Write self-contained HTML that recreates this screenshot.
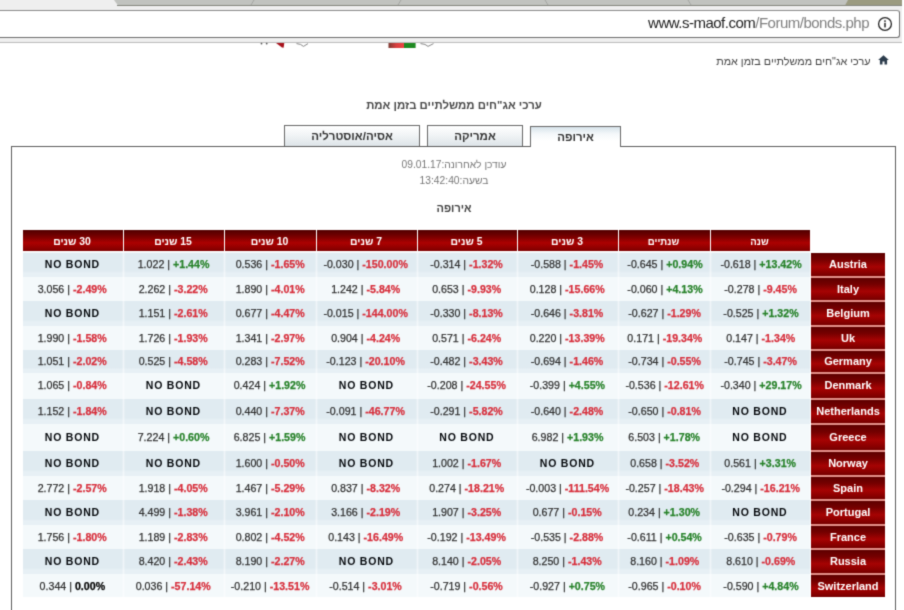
<!DOCTYPE html>
<html><head><meta charset="utf-8"><title>bonds</title>
<style>
html,body{margin:0;padding:0;}
body{width:904px;height:610px;position:relative;overflow:hidden;background:#fff;font-family:"Liberation Sans",sans-serif;}
.a{position:absolute;}
.t{position:absolute;white-space:nowrap;text-align:center;}
.h{position:absolute;top:230px;height:21px;line-height:22px;color:#fff;font-weight:bold;font-size:10.4px;text-align:center;direction:rtl;
 background:linear-gradient(to bottom,#520000 0%,#6c0000 22%,#800000 36%,#ac0101 61%,#960000 80%,#7e0000 100%);}
.c{position:absolute;text-align:center;font-size:10.65px;color:#303030;white-space:nowrap;}
.c .v{display:inline-block;font-size:11px;-webkit-text-stroke:0.25px;transform:translateX(-0.5px) scaleX(0.968);transform-origin:50% 50%;}
.c .v.m1{transform:translateX(-1px) scaleX(0.968);}
.c .v.m0{transform:translateX(0.1px) scaleX(0.968);}
.c b.g{color:#27822a;}
.c b.r{color:#d72f3c;}
.c b.k{color:#000;}
.nb{font-weight:bold;color:#05080c;letter-spacing:0.8px;font-size:10.5px;display:inline-block;transform:translate(-0.6px,-0.5px);}
.gp{position:absolute;width:3px;background:linear-gradient(to right,rgba(255,255,255,0.2) 0,rgba(255,255,255,0.2) 1px,rgba(255,255,255,0.5) 1px,rgba(255,255,255,0.5) 2px,rgba(255,255,255,0.2) 2px,rgba(255,255,255,0.2) 3px);}
.e{background:linear-gradient(to bottom,#e0ebf1 0%,#e0ebf1 76%,#e7f0f5 84%,#e7f0f5 100%);}
.o{background:#f4f9fb;}
.n{position:absolute;left:811px;width:74px;color:#fff;font-weight:bold;font-size:11px;text-align:center;white-space:nowrap;
 background:linear-gradient(to bottom,#5e0000 0%,#740000 28%,#a60303 60%,#900000 80%,#760000 100%);}
#pg{position:absolute;left:0;top:0;width:904px;height:610px;overflow:hidden;background:#fff;filter:url(#bl);}
</style></head><body><svg width="0" height="0" style="position:absolute"><filter id="bl" x="0" y="0" width="100%" height="100%" color-interpolation-filters="sRGB"><feConvolveMatrix order="3" kernelMatrix="0.0225 0.1051 0.0225 0.1051 0.4896 0.1051 0.0225 0.1051 0.0225" edgeMode="duplicate" preserveAlpha="true"/></filter></svg><div id="pg">

<div class="a" style="left:0;top:0;width:902px;height:43px;background:#efefef;"></div>
<svg class="a" style="left:0;top:0" width="904" height="11" viewBox="0 0 904 11"><polygon points="114,0 902,0 902,5.5 118,5.5" fill="#c1c3bf"/><polygon points="848,0 902,0 902,5.5 845,5.5" fill="#9b9b80"/><line x1="117" y1="5.5" x2="902" y2="5.5" stroke="#85877f" stroke-width="1"/><line x1="254" y1="0" x2="251" y2="5" stroke="#a4a6a2" stroke-width="1"/><line x1="401" y1="0" x2="398" y2="5" stroke="#a4a6a2" stroke-width="1"/><line x1="545" y1="0" x2="548" y2="5" stroke="#a4a6a2" stroke-width="1"/><line x1="688" y1="0" x2="691" y2="5" stroke="#a4a6a2" stroke-width="1"/></svg>
<div class="a" style="left:-3px;top:10px;width:901px;height:26px;background:#fff;border:1px solid #6e6e6e;border-top-color:#8c8c8c;border-radius:3px;"></div>
<div class="a" style="left:0;top:42px;width:902px;height:1px;background:#bdbdbd;"></div>
<div class="t" id="url" style="left:600px;width:269px;text-align:right;top:12px;height:22px;line-height:22px;font-size:15px;letter-spacing:-0.5px;color:#222;">www.s-maof.com<span style="color:#808080">/Forum/bonds.php</span></div>
<svg class="a" style="left:877px;top:16px" width="16" height="16" viewBox="0 0 16 16"><circle cx="8" cy="8" r="6.4" fill="none" stroke="#222" stroke-width="1.3"/><rect x="7.25" y="6.8" width="1.5" height="4.6" fill="#222"/><rect x="7.25" y="4.3" width="1.5" height="1.6" fill="#222"/></svg>
<svg class="a" style="left:250px;top:42px" width="200" height="8" viewBox="250 42 200 8"><circle cx="261.5" cy="43.6" r="0.9" fill="#555"/><circle cx="266.7" cy="43.6" r="0.9" fill="#555"/><polygon points="276,43 284.3,43 283.6,47.8 282,47.6" fill="#a8121c"/><path d="M296.5 43.6 L300.5 44.4 L303.5 46.4 L308 43.6" fill="none" stroke="#777" stroke-width="0.9"/><defs><linearGradient id="rg" x1="0" x2="1" y1="0" y2="0"><stop offset="0" stop-color="#7c3a32"/><stop offset="0.5" stop-color="#d84040"/><stop offset="1" stop-color="#ee4444"/></linearGradient></defs><rect x="388.5" y="43" width="15.5" height="5" fill="url(#rg)"/><rect x="404" y="43" width="11.6" height="5" fill="#1f8a22"/><path d="M420.5 43.6 L425 44.4 L428 46.4 L433.5 43.6" fill="none" stroke="#777" stroke-width="0.9"/></svg>
<svg class="a" style="left:878px;top:55px" width="11" height="10" viewBox="0 0 11 10"><path d="M5.5 0.3 L0.2 5 L1.9 5 L1.9 9.6 L4.5 9.6 L4.5 6.4 L6.5 6.4 L6.5 9.6 L9.1 9.6 L9.1 5 L10.8 5 Z" fill="#2c3c4c"/></svg>
<div class="t" id="bc" style="left:600px;width:270.5px;text-align:right;top:53px;height:16px;line-height:16px;font-size:10.8px;color:#444;direction:rtl;"><span>ערכי אג"חים ממשלתיים בזמן אמת</span></div>
<div class="t" id="title" style="left:254px;width:400px;top:97px;height:16px;line-height:16px;font-size:11.4px;font-weight:bold;color:#4a4a4a;direction:rtl;"><span>ערכי אג"חים ממשלתיים בזמן אמת</span></div>
<div class="a" style="left:11px;top:146px;width:883px;height:480px;border:1px solid #5c5c5c;border-bottom:none;"></div>
<div class="t tab" style="left:284px;top:125px;width:134px;height:20px;line-height:20px;border:1px solid #686868;border-bottom:none;background:linear-gradient(to bottom,#ffffff 0%,#f1f4f6 45%,#dde4e8 100%);font-size:11.5px;font-weight:bold;color:#333;direction:rtl;"><span>אסיה/אוסטרליה</span></div>
<div class="t tab" style="left:427px;top:125px;width:94px;height:20px;line-height:20px;border:1px solid #686868;border-bottom:none;background:linear-gradient(to bottom,#ffffff 0%,#f1f4f6 45%,#dde4e8 100%);font-size:11.5px;font-weight:bold;color:#333;direction:rtl;"><span>אמריקה</span></div>
<div class="t tab" style="left:530px;top:126px;width:89px;height:20px;line-height:21px;border:1px solid #686868;border-bottom:none;background:linear-gradient(to bottom,#d7e3ea 0%,#f4f8fa 35%,#ffffff 70%);font-size:11.5px;font-weight:bold;color:#333;direction:rtl;"><span>אירופה</span></div>
<div class="t" id="i1" style="left:254px;width:400px;top:157px;height:16px;line-height:16px;font-size:10.25px;color:#777;direction:rtl;"><span>עודכן לאחרונה:09.01.17</span></div>
<div class="t" id="i2" style="left:254px;width:400px;top:173px;height:16px;line-height:16px;font-size:10.3px;color:#777;direction:rtl;"><span>בשעה:13:42:40</span></div>
<div class="t" id="i3" style="left:254px;width:400px;top:200px;height:16px;line-height:16px;font-size:11px;font-weight:bold;color:#444;direction:rtl;"><span>אירופה</span></div>
<div class="h" style="left:23px;width:100px;"><span style="position:relative;top:1px;left:-1px;">30 שנים</span></div>
<div class="h" style="left:124px;width:100px;"><span style="position:relative;top:1px;left:-1px;">15 שנים</span></div>
<div class="h" style="left:225px;width:91px;"><span style="position:relative;top:1px;left:-1px;">10 שנים</span></div>
<div class="h" style="left:317px;width:100px;"><span style="position:relative;top:1px;left:-1px;">7 שנים</span></div>
<div class="h" style="left:418px;width:99px;"><span style="position:relative;top:1px;left:-1px;">5 שנים</span></div>
<div class="h" style="left:518px;width:100px;"><span style="position:relative;top:1px;left:-1px;">3 שנים</span></div>
<div class="h" style="left:619px;width:91px;font-size:9.6px;"><span style="position:relative;top:1px;left:-1px;">שנתיים</span></div>
<div class="h" style="left:711px;width:99px;font-size:9.6px;"><span style="position:relative;top:1px;left:-1px;">שנה</span></div>
<div class="a e" style="left:23px;top:252px;width:787px;height:25px;"></div>
<div class="c" style="left:23px;width:100px;top:252px;height:25px;line-height:25px;"><span class="nb">NO BOND</span></div>
<div class="gp" style="left:122px;top:252px;height:25px;"></div>
<div class="c" style="left:124px;width:100px;top:252px;height:25px;line-height:25px;"><span class="v">1.022 | <b class="g">+1.44%</b></span></div>
<div class="gp" style="left:223px;top:252px;height:25px;"></div>
<div class="c" style="left:225px;width:91px;top:252px;height:25px;line-height:25px;"><span class="v">0.536 | <b class="r">-1.65%</b></span></div>
<div class="gp" style="left:315px;top:252px;height:25px;"></div>
<div class="c" style="left:317px;width:100px;top:252px;height:25px;line-height:25px;"><span class="v m1">-0.030 | <b class="r">-150.00%</b></span></div>
<div class="gp" style="left:416px;top:252px;height:25px;"></div>
<div class="c" style="left:418px;width:99px;top:252px;height:25px;line-height:25px;"><span class="v m1">-0.314 | <b class="r">-1.32%</b></span></div>
<div class="gp" style="left:516px;top:252px;height:25px;"></div>
<div class="c" style="left:518px;width:100px;top:252px;height:25px;line-height:25px;"><span class="v">-0.588 | <b class="r">-1.45%</b></span></div>
<div class="gp" style="left:617px;top:252px;height:25px;"></div>
<div class="c" style="left:619px;width:91px;top:252px;height:25px;line-height:25px;"><span class="v m0">-0.645 | <b class="g">+0.94%</b></span></div>
<div class="gp" style="left:709px;top:252px;height:25px;"></div>
<div class="c" style="left:711px;width:99px;top:252px;height:25px;line-height:25px;"><span class="v m0">-0.618 | <b class="g">+13.42%</b></span></div>
<div class="n" style="top:253px;height:23px;line-height:23px;"><span>Austria</span></div>
<div class="a" style="left:811px;width:74px;top:276px;height:2px;background:#e39088;"></div>
<div class="a o" style="left:23px;top:277px;width:787px;height:24px;"></div>
<div class="c" style="left:23px;width:100px;top:277px;height:24px;line-height:24px;"><span class="v">3.056 | <b class="r">-2.49%</b></span></div>
<div class="gp" style="left:122px;top:277px;height:24px;"></div>
<div class="c" style="left:124px;width:100px;top:277px;height:24px;line-height:24px;"><span class="v">2.262 | <b class="r">-3.22%</b></span></div>
<div class="gp" style="left:223px;top:277px;height:24px;"></div>
<div class="c" style="left:225px;width:91px;top:277px;height:24px;line-height:24px;"><span class="v">1.890 | <b class="r">-4.01%</b></span></div>
<div class="gp" style="left:315px;top:277px;height:24px;"></div>
<div class="c" style="left:317px;width:100px;top:277px;height:24px;line-height:24px;"><span class="v m1">1.242 | <b class="r">-5.84%</b></span></div>
<div class="gp" style="left:416px;top:277px;height:24px;"></div>
<div class="c" style="left:418px;width:99px;top:277px;height:24px;line-height:24px;"><span class="v m1">0.653 | <b class="r">-9.93%</b></span></div>
<div class="gp" style="left:516px;top:277px;height:24px;"></div>
<div class="c" style="left:518px;width:100px;top:277px;height:24px;line-height:24px;"><span class="v">0.128 | <b class="r">-15.66%</b></span></div>
<div class="gp" style="left:617px;top:277px;height:24px;"></div>
<div class="c" style="left:619px;width:91px;top:277px;height:24px;line-height:24px;"><span class="v m0">-0.060 | <b class="g">+4.13%</b></span></div>
<div class="gp" style="left:709px;top:277px;height:24px;"></div>
<div class="c" style="left:711px;width:99px;top:277px;height:24px;line-height:24px;"><span class="v m0">-0.278 | <b class="r">-9.45%</b></span></div>
<div class="n" style="top:278px;height:22px;line-height:22px;"><span>Italy</span></div>
<div class="a" style="left:811px;width:74px;top:300px;height:2px;background:#e39088;"></div>
<div class="a e" style="left:23px;top:301px;width:787px;height:25px;"></div>
<div class="c" style="left:23px;width:100px;top:301px;height:25px;line-height:25px;"><span class="nb">NO BOND</span></div>
<div class="gp" style="left:122px;top:301px;height:25px;"></div>
<div class="c" style="left:124px;width:100px;top:301px;height:25px;line-height:25px;"><span class="v">1.151 | <b class="r">-2.61%</b></span></div>
<div class="gp" style="left:223px;top:301px;height:25px;"></div>
<div class="c" style="left:225px;width:91px;top:301px;height:25px;line-height:25px;"><span class="v">0.677 | <b class="r">-4.47%</b></span></div>
<div class="gp" style="left:315px;top:301px;height:25px;"></div>
<div class="c" style="left:317px;width:100px;top:301px;height:25px;line-height:25px;"><span class="v m1">-0.015 | <b class="r">-144.00%</b></span></div>
<div class="gp" style="left:416px;top:301px;height:25px;"></div>
<div class="c" style="left:418px;width:99px;top:301px;height:25px;line-height:25px;"><span class="v m1">-0.330 | <b class="r">-8.13%</b></span></div>
<div class="gp" style="left:516px;top:301px;height:25px;"></div>
<div class="c" style="left:518px;width:100px;top:301px;height:25px;line-height:25px;"><span class="v">-0.646 | <b class="r">-3.81%</b></span></div>
<div class="gp" style="left:617px;top:301px;height:25px;"></div>
<div class="c" style="left:619px;width:91px;top:301px;height:25px;line-height:25px;"><span class="v m0">-0.627 | <b class="r">-1.29%</b></span></div>
<div class="gp" style="left:709px;top:301px;height:25px;"></div>
<div class="c" style="left:711px;width:99px;top:301px;height:25px;line-height:25px;"><span class="v m0">-0.525 | <b class="g">+1.32%</b></span></div>
<div class="n" style="top:302px;height:23px;line-height:23px;"><span>Belgium</span></div>
<div class="a" style="left:811px;width:74px;top:325px;height:2px;background:#e39088;"></div>
<div class="a o" style="left:23px;top:326px;width:787px;height:24px;"></div>
<div class="c" style="left:23px;width:100px;top:326px;height:24px;line-height:24px;"><span class="v">1.990 | <b class="r">-1.58%</b></span></div>
<div class="gp" style="left:122px;top:326px;height:24px;"></div>
<div class="c" style="left:124px;width:100px;top:326px;height:24px;line-height:24px;"><span class="v">1.726 | <b class="r">-1.93%</b></span></div>
<div class="gp" style="left:223px;top:326px;height:24px;"></div>
<div class="c" style="left:225px;width:91px;top:326px;height:24px;line-height:24px;"><span class="v">1.341 | <b class="r">-2.97%</b></span></div>
<div class="gp" style="left:315px;top:326px;height:24px;"></div>
<div class="c" style="left:317px;width:100px;top:326px;height:24px;line-height:24px;"><span class="v m1">0.904 | <b class="r">-4.24%</b></span></div>
<div class="gp" style="left:416px;top:326px;height:24px;"></div>
<div class="c" style="left:418px;width:99px;top:326px;height:24px;line-height:24px;"><span class="v m1">0.571 | <b class="r">-6.24%</b></span></div>
<div class="gp" style="left:516px;top:326px;height:24px;"></div>
<div class="c" style="left:518px;width:100px;top:326px;height:24px;line-height:24px;"><span class="v">0.220 | <b class="r">-13.39%</b></span></div>
<div class="gp" style="left:617px;top:326px;height:24px;"></div>
<div class="c" style="left:619px;width:91px;top:326px;height:24px;line-height:24px;"><span class="v m0">0.171 | <b class="r">-19.34%</b></span></div>
<div class="gp" style="left:709px;top:326px;height:24px;"></div>
<div class="c" style="left:711px;width:99px;top:326px;height:24px;line-height:24px;"><span class="v m0">0.147 | <b class="r">-1.34%</b></span></div>
<div class="n" style="top:327px;height:22px;line-height:22px;"><span>Uk</span></div>
<div class="a" style="left:811px;width:74px;top:349px;height:2px;background:#e39088;"></div>
<div class="a e" style="left:23px;top:350px;width:787px;height:23px;"></div>
<div class="c" style="left:23px;width:100px;top:350px;height:23px;line-height:23px;"><span class="v">1.051 | <b class="r">-2.02%</b></span></div>
<div class="gp" style="left:122px;top:350px;height:23px;"></div>
<div class="c" style="left:124px;width:100px;top:350px;height:23px;line-height:23px;"><span class="v">0.525 | <b class="r">-4.58%</b></span></div>
<div class="gp" style="left:223px;top:350px;height:23px;"></div>
<div class="c" style="left:225px;width:91px;top:350px;height:23px;line-height:23px;"><span class="v">0.283 | <b class="r">-7.52%</b></span></div>
<div class="gp" style="left:315px;top:350px;height:23px;"></div>
<div class="c" style="left:317px;width:100px;top:350px;height:23px;line-height:23px;"><span class="v m1">-0.123 | <b class="r">-20.10%</b></span></div>
<div class="gp" style="left:416px;top:350px;height:23px;"></div>
<div class="c" style="left:418px;width:99px;top:350px;height:23px;line-height:23px;"><span class="v m1">-0.482 | <b class="r">-3.43%</b></span></div>
<div class="gp" style="left:516px;top:350px;height:23px;"></div>
<div class="c" style="left:518px;width:100px;top:350px;height:23px;line-height:23px;"><span class="v">-0.694 | <b class="r">-1.46%</b></span></div>
<div class="gp" style="left:617px;top:350px;height:23px;"></div>
<div class="c" style="left:619px;width:91px;top:350px;height:23px;line-height:23px;"><span class="v m0">-0.734 | <b class="r">-0.55%</b></span></div>
<div class="gp" style="left:709px;top:350px;height:23px;"></div>
<div class="c" style="left:711px;width:99px;top:350px;height:23px;line-height:23px;"><span class="v m0">-0.745 | <b class="r">-3.47%</b></span></div>
<div class="n" style="top:351px;height:21px;line-height:21px;"><span>Germany</span></div>
<div class="a" style="left:811px;width:74px;top:372px;height:2px;background:#e39088;"></div>
<div class="a o" style="left:23px;top:373px;width:787px;height:26px;"></div>
<div class="c" style="left:23px;width:100px;top:372px;height:26px;line-height:26px;"><span class="v">1.065 | <b class="r">-0.84%</b></span></div>
<div class="gp" style="left:122px;top:373px;height:26px;"></div>
<div class="c" style="left:124px;width:100px;top:372px;height:26px;line-height:26px;"><span class="nb">NO BOND</span></div>
<div class="gp" style="left:223px;top:373px;height:26px;"></div>
<div class="c" style="left:225px;width:91px;top:372px;height:26px;line-height:26px;"><span class="v">0.424 | <b class="g">+1.92%</b></span></div>
<div class="gp" style="left:315px;top:373px;height:26px;"></div>
<div class="c" style="left:317px;width:100px;top:372px;height:26px;line-height:26px;"><span class="nb">NO BOND</span></div>
<div class="gp" style="left:416px;top:373px;height:26px;"></div>
<div class="c" style="left:418px;width:99px;top:372px;height:26px;line-height:26px;"><span class="v m1">-0.208 | <b class="r">-24.55%</b></span></div>
<div class="gp" style="left:516px;top:373px;height:26px;"></div>
<div class="c" style="left:518px;width:100px;top:372px;height:26px;line-height:26px;"><span class="v">-0.399 | <b class="g">+4.55%</b></span></div>
<div class="gp" style="left:617px;top:373px;height:26px;"></div>
<div class="c" style="left:619px;width:91px;top:372px;height:26px;line-height:26px;"><span class="v m0">-0.536 | <b class="r">-12.61%</b></span></div>
<div class="gp" style="left:709px;top:373px;height:26px;"></div>
<div class="c" style="left:711px;width:99px;top:372px;height:26px;line-height:26px;"><span class="v m0">-0.340 | <b class="g">+29.17%</b></span></div>
<div class="n" style="top:374px;height:24px;line-height:22px;"><span>Denmark</span></div>
<div class="a" style="left:811px;width:74px;top:398px;height:2px;background:#e39088;"></div>
<div class="a e" style="left:23px;top:399px;width:787px;height:25px;"></div>
<div class="c" style="left:23px;width:100px;top:399px;height:25px;line-height:25px;"><span class="v">1.152 | <b class="r">-1.84%</b></span></div>
<div class="gp" style="left:122px;top:399px;height:25px;"></div>
<div class="c" style="left:124px;width:100px;top:399px;height:25px;line-height:25px;"><span class="nb">NO BOND</span></div>
<div class="gp" style="left:223px;top:399px;height:25px;"></div>
<div class="c" style="left:225px;width:91px;top:399px;height:25px;line-height:25px;"><span class="v">0.440 | <b class="r">-7.37%</b></span></div>
<div class="gp" style="left:315px;top:399px;height:25px;"></div>
<div class="c" style="left:317px;width:100px;top:399px;height:25px;line-height:25px;"><span class="v m1">-0.091 | <b class="r">-46.77%</b></span></div>
<div class="gp" style="left:416px;top:399px;height:25px;"></div>
<div class="c" style="left:418px;width:99px;top:399px;height:25px;line-height:25px;"><span class="v m1">-0.291 | <b class="r">-5.82%</b></span></div>
<div class="gp" style="left:516px;top:399px;height:25px;"></div>
<div class="c" style="left:518px;width:100px;top:399px;height:25px;line-height:25px;"><span class="v">-0.640 | <b class="r">-2.48%</b></span></div>
<div class="gp" style="left:617px;top:399px;height:25px;"></div>
<div class="c" style="left:619px;width:91px;top:399px;height:25px;line-height:25px;"><span class="v m0">-0.650 | <b class="r">-0.81%</b></span></div>
<div class="gp" style="left:709px;top:399px;height:25px;"></div>
<div class="c" style="left:711px;width:99px;top:399px;height:25px;line-height:25px;"><span class="nb">NO BOND</span></div>
<div class="n" style="top:400px;height:23px;line-height:23px;"><span>Netherlands</span></div>
<div class="a" style="left:811px;width:74px;top:423px;height:2px;background:#e39088;"></div>
<div class="a o" style="left:23px;top:424px;width:787px;height:27px;"></div>
<div class="c" style="left:23px;width:100px;top:424px;height:27px;line-height:27px;"><span class="nb">NO BOND</span></div>
<div class="gp" style="left:122px;top:424px;height:27px;"></div>
<div class="c" style="left:124px;width:100px;top:424px;height:27px;line-height:27px;"><span class="v">7.224 | <b class="g">+0.60%</b></span></div>
<div class="gp" style="left:223px;top:424px;height:27px;"></div>
<div class="c" style="left:225px;width:91px;top:424px;height:27px;line-height:27px;"><span class="v">6.825 | <b class="g">+1.59%</b></span></div>
<div class="gp" style="left:315px;top:424px;height:27px;"></div>
<div class="c" style="left:317px;width:100px;top:424px;height:27px;line-height:27px;"><span class="nb">NO BOND</span></div>
<div class="gp" style="left:416px;top:424px;height:27px;"></div>
<div class="c" style="left:418px;width:99px;top:424px;height:27px;line-height:27px;"><span class="nb">NO BOND</span></div>
<div class="gp" style="left:516px;top:424px;height:27px;"></div>
<div class="c" style="left:518px;width:100px;top:424px;height:27px;line-height:27px;"><span class="v">6.982 | <b class="g">+1.93%</b></span></div>
<div class="gp" style="left:617px;top:424px;height:27px;"></div>
<div class="c" style="left:619px;width:91px;top:424px;height:27px;line-height:27px;"><span class="v m0">6.503 | <b class="g">+1.78%</b></span></div>
<div class="gp" style="left:709px;top:424px;height:27px;"></div>
<div class="c" style="left:711px;width:99px;top:424px;height:27px;line-height:27px;"><span class="nb">NO BOND</span></div>
<div class="n" style="top:425px;height:25px;line-height:25px;"><span>Greece</span></div>
<div class="a" style="left:811px;width:74px;top:450px;height:2px;background:#e39088;"></div>
<div class="a e" style="left:23px;top:451px;width:787px;height:25px;"></div>
<div class="c" style="left:23px;width:100px;top:451px;height:25px;line-height:25px;"><span class="nb">NO BOND</span></div>
<div class="gp" style="left:122px;top:451px;height:25px;"></div>
<div class="c" style="left:124px;width:100px;top:451px;height:25px;line-height:25px;"><span class="nb">NO BOND</span></div>
<div class="gp" style="left:223px;top:451px;height:25px;"></div>
<div class="c" style="left:225px;width:91px;top:451px;height:25px;line-height:25px;"><span class="v">1.600 | <b class="r">-0.50%</b></span></div>
<div class="gp" style="left:315px;top:451px;height:25px;"></div>
<div class="c" style="left:317px;width:100px;top:451px;height:25px;line-height:25px;"><span class="nb">NO BOND</span></div>
<div class="gp" style="left:416px;top:451px;height:25px;"></div>
<div class="c" style="left:418px;width:99px;top:451px;height:25px;line-height:25px;"><span class="v m1">1.002 | <b class="r">-1.67%</b></span></div>
<div class="gp" style="left:516px;top:451px;height:25px;"></div>
<div class="c" style="left:518px;width:100px;top:451px;height:25px;line-height:25px;"><span class="nb">NO BOND</span></div>
<div class="gp" style="left:617px;top:451px;height:25px;"></div>
<div class="c" style="left:619px;width:91px;top:451px;height:25px;line-height:25px;"><span class="v m0">0.658 | <b class="r">-3.52%</b></span></div>
<div class="gp" style="left:709px;top:451px;height:25px;"></div>
<div class="c" style="left:711px;width:99px;top:451px;height:25px;line-height:25px;"><span class="v m0">0.561 | <b class="g">+3.31%</b></span></div>
<div class="n" style="top:452px;height:23px;line-height:23px;"><span>Norway</span></div>
<div class="a" style="left:811px;width:74px;top:475px;height:2px;background:#e39088;"></div>
<div class="a o" style="left:23px;top:476px;width:787px;height:24px;"></div>
<div class="c" style="left:23px;width:100px;top:476px;height:24px;line-height:24px;"><span class="v">2.772 | <b class="r">-2.57%</b></span></div>
<div class="gp" style="left:122px;top:476px;height:24px;"></div>
<div class="c" style="left:124px;width:100px;top:476px;height:24px;line-height:24px;"><span class="v">1.918 | <b class="r">-4.05%</b></span></div>
<div class="gp" style="left:223px;top:476px;height:24px;"></div>
<div class="c" style="left:225px;width:91px;top:476px;height:24px;line-height:24px;"><span class="v">1.467 | <b class="r">-5.29%</b></span></div>
<div class="gp" style="left:315px;top:476px;height:24px;"></div>
<div class="c" style="left:317px;width:100px;top:476px;height:24px;line-height:24px;"><span class="v m1">0.837 | <b class="r">-8.32%</b></span></div>
<div class="gp" style="left:416px;top:476px;height:24px;"></div>
<div class="c" style="left:418px;width:99px;top:476px;height:24px;line-height:24px;"><span class="v m1">0.274 | <b class="r">-18.21%</b></span></div>
<div class="gp" style="left:516px;top:476px;height:24px;"></div>
<div class="c" style="left:518px;width:100px;top:476px;height:24px;line-height:24px;"><span class="v">-0.003 | <b class="r">-111.54%</b></span></div>
<div class="gp" style="left:617px;top:476px;height:24px;"></div>
<div class="c" style="left:619px;width:91px;top:476px;height:24px;line-height:24px;"><span class="v m0">-0.257 | <b class="r">-18.43%</b></span></div>
<div class="gp" style="left:709px;top:476px;height:24px;"></div>
<div class="c" style="left:711px;width:99px;top:476px;height:24px;line-height:24px;"><span class="v m0">-0.294 | <b class="r">-16.21%</b></span></div>
<div class="n" style="top:477px;height:22px;line-height:22px;"><span>Spain</span></div>
<div class="a" style="left:811px;width:74px;top:499px;height:2px;background:#e39088;"></div>
<div class="a e" style="left:23px;top:500px;width:787px;height:25px;"></div>
<div class="c" style="left:23px;width:100px;top:500px;height:25px;line-height:25px;"><span class="nb">NO BOND</span></div>
<div class="gp" style="left:122px;top:500px;height:25px;"></div>
<div class="c" style="left:124px;width:100px;top:500px;height:25px;line-height:25px;"><span class="v">4.499 | <b class="r">-1.38%</b></span></div>
<div class="gp" style="left:223px;top:500px;height:25px;"></div>
<div class="c" style="left:225px;width:91px;top:500px;height:25px;line-height:25px;"><span class="v">3.961 | <b class="r">-2.10%</b></span></div>
<div class="gp" style="left:315px;top:500px;height:25px;"></div>
<div class="c" style="left:317px;width:100px;top:500px;height:25px;line-height:25px;"><span class="v m1">3.166 | <b class="r">-2.19%</b></span></div>
<div class="gp" style="left:416px;top:500px;height:25px;"></div>
<div class="c" style="left:418px;width:99px;top:500px;height:25px;line-height:25px;"><span class="v m1">1.907 | <b class="r">-3.25%</b></span></div>
<div class="gp" style="left:516px;top:500px;height:25px;"></div>
<div class="c" style="left:518px;width:100px;top:500px;height:25px;line-height:25px;"><span class="v">0.677 | <b class="r">-0.15%</b></span></div>
<div class="gp" style="left:617px;top:500px;height:25px;"></div>
<div class="c" style="left:619px;width:91px;top:500px;height:25px;line-height:25px;"><span class="v m0">0.234 | <b class="g">+1.30%</b></span></div>
<div class="gp" style="left:709px;top:500px;height:25px;"></div>
<div class="c" style="left:711px;width:99px;top:500px;height:25px;line-height:25px;"><span class="nb">NO BOND</span></div>
<div class="n" style="top:501px;height:23px;line-height:23px;"><span>Portugal</span></div>
<div class="a" style="left:811px;width:74px;top:524px;height:2px;background:#e39088;"></div>
<div class="a o" style="left:23px;top:525px;width:787px;height:24px;"></div>
<div class="c" style="left:23px;width:100px;top:525px;height:24px;line-height:24px;"><span class="v">1.756 | <b class="r">-1.80%</b></span></div>
<div class="gp" style="left:122px;top:525px;height:24px;"></div>
<div class="c" style="left:124px;width:100px;top:525px;height:24px;line-height:24px;"><span class="v">1.189 | <b class="r">-2.83%</b></span></div>
<div class="gp" style="left:223px;top:525px;height:24px;"></div>
<div class="c" style="left:225px;width:91px;top:525px;height:24px;line-height:24px;"><span class="v">0.802 | <b class="r">-4.52%</b></span></div>
<div class="gp" style="left:315px;top:525px;height:24px;"></div>
<div class="c" style="left:317px;width:100px;top:525px;height:24px;line-height:24px;"><span class="v m1">0.143 | <b class="r">-16.49%</b></span></div>
<div class="gp" style="left:416px;top:525px;height:24px;"></div>
<div class="c" style="left:418px;width:99px;top:525px;height:24px;line-height:24px;"><span class="v m1">-0.192 | <b class="r">-13.49%</b></span></div>
<div class="gp" style="left:516px;top:525px;height:24px;"></div>
<div class="c" style="left:518px;width:100px;top:525px;height:24px;line-height:24px;"><span class="v">-0.535 | <b class="r">-2.88%</b></span></div>
<div class="gp" style="left:617px;top:525px;height:24px;"></div>
<div class="c" style="left:619px;width:91px;top:525px;height:24px;line-height:24px;"><span class="v m0">-0.611 | <b class="g">+0.54%</b></span></div>
<div class="gp" style="left:709px;top:525px;height:24px;"></div>
<div class="c" style="left:711px;width:99px;top:525px;height:24px;line-height:24px;"><span class="v m0">-0.635 | <b class="r">-0.79%</b></span></div>
<div class="n" style="top:526px;height:22px;line-height:22px;"><span>France</span></div>
<div class="a" style="left:811px;width:74px;top:548px;height:2px;background:#e39088;"></div>
<div class="a e" style="left:23px;top:549px;width:787px;height:25px;"></div>
<div class="c" style="left:23px;width:100px;top:549px;height:25px;line-height:25px;"><span class="nb">NO BOND</span></div>
<div class="gp" style="left:122px;top:549px;height:25px;"></div>
<div class="c" style="left:124px;width:100px;top:549px;height:25px;line-height:25px;"><span class="v">8.420 | <b class="r">-2.43%</b></span></div>
<div class="gp" style="left:223px;top:549px;height:25px;"></div>
<div class="c" style="left:225px;width:91px;top:549px;height:25px;line-height:25px;"><span class="v">8.190 | <b class="r">-2.27%</b></span></div>
<div class="gp" style="left:315px;top:549px;height:25px;"></div>
<div class="c" style="left:317px;width:100px;top:549px;height:25px;line-height:25px;"><span class="nb">NO BOND</span></div>
<div class="gp" style="left:416px;top:549px;height:25px;"></div>
<div class="c" style="left:418px;width:99px;top:549px;height:25px;line-height:25px;"><span class="v m1">8.140 | <b class="r">-2.05%</b></span></div>
<div class="gp" style="left:516px;top:549px;height:25px;"></div>
<div class="c" style="left:518px;width:100px;top:549px;height:25px;line-height:25px;"><span class="v">8.250 | <b class="r">-1.43%</b></span></div>
<div class="gp" style="left:617px;top:549px;height:25px;"></div>
<div class="c" style="left:619px;width:91px;top:549px;height:25px;line-height:25px;"><span class="v m0">8.160 | <b class="r">-1.09%</b></span></div>
<div class="gp" style="left:709px;top:549px;height:25px;"></div>
<div class="c" style="left:711px;width:99px;top:549px;height:25px;line-height:25px;"><span class="v m0">8.610 | <b class="r">-0.69%</b></span></div>
<div class="n" style="top:550px;height:23px;line-height:23px;"><span>Russia</span></div>
<div class="a" style="left:811px;width:74px;top:573px;height:2px;background:#e39088;"></div>
<div class="a o" style="left:23px;top:574px;width:787px;height:23px;"></div>
<div class="c" style="left:23px;width:100px;top:575px;height:23px;line-height:23px;"><span class="v">0.344 | <b class="k">0.00%</b></span></div>
<div class="gp" style="left:122px;top:574px;height:23px;"></div>
<div class="c" style="left:124px;width:100px;top:575px;height:23px;line-height:23px;"><span class="v">0.036 | <b class="r">-57.14%</b></span></div>
<div class="gp" style="left:223px;top:574px;height:23px;"></div>
<div class="c" style="left:225px;width:91px;top:575px;height:23px;line-height:23px;"><span class="v">-0.210 | <b class="r">-13.51%</b></span></div>
<div class="gp" style="left:315px;top:574px;height:23px;"></div>
<div class="c" style="left:317px;width:100px;top:575px;height:23px;line-height:23px;"><span class="v m1">-0.514 | <b class="r">-3.01%</b></span></div>
<div class="gp" style="left:416px;top:574px;height:23px;"></div>
<div class="c" style="left:418px;width:99px;top:575px;height:23px;line-height:23px;"><span class="v m1">-0.719 | <b class="r">-0.56%</b></span></div>
<div class="gp" style="left:516px;top:574px;height:23px;"></div>
<div class="c" style="left:518px;width:100px;top:575px;height:23px;line-height:23px;"><span class="v">-0.927 | <b class="g">+0.75%</b></span></div>
<div class="gp" style="left:617px;top:574px;height:23px;"></div>
<div class="c" style="left:619px;width:91px;top:575px;height:23px;line-height:23px;"><span class="v m0">-0.965 | <b class="r">-0.10%</b></span></div>
<div class="gp" style="left:709px;top:574px;height:23px;"></div>
<div class="c" style="left:711px;width:99px;top:575px;height:23px;line-height:23px;"><span class="v m0">-0.590 | <b class="g">+4.84%</b></span></div>
<div class="n" style="top:575px;height:22px;line-height:22px;"><span>Switzerland</span></div>
<div class="a" style="left:23px;top:252px;width:787px;height:1px;background:rgba(255,255,255,0.6);"></div>
</div></body></html>
